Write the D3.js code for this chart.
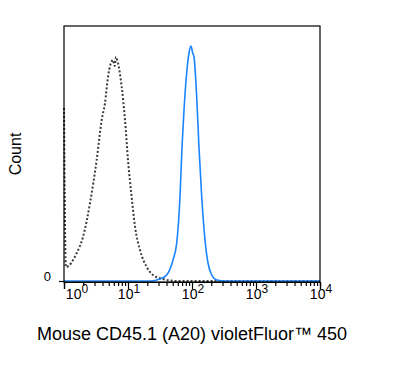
<!DOCTYPE html>
<html>
<head>
<meta charset="utf-8">
<script src="https://cdn.jsdelivr.net/npm/d3@7"></script>
<style>
  body { margin: 0; background: #fff; }
  text { font-family: "Liberation Sans", Arial, sans-serif; fill: #000; }
</style>
</head>
<body>
<div class="chart"></div>
<script>
// isotype control (dotted) - fluorescence intensity vs count
var isoX = [1, 1.07, 1.58, 1.98, 2.55, 3.24, 3.88, 4.37, 4.87, 5.83, 6.2, 6.49, 6.98, 7.97, 8.98, 10, 11.4, 12.9, 15.4, 19.6, 24.6, 35.2, 58.3, 10000];
var isoY = [173, 14, 28, 44, 78, 121, 161, 178, 204, 221, 215, 224, 218, 194, 161, 121, 84, 54, 31, 14, 6, 2, 0, 0];

// stained sample (blue)
var stainX = [1, 22.1, 31.6, 40.2, 50.5, 57.7, 64.9, 69.8, 75.0, 82.6, 89.8, 96.4, 102.5, 107.5, 118.4, 128.5, 141.9, 159.7, 177.8, 203.2, 243.3, 328, 10000];
var stainY = [0, 0, 2, 6, 21, 38, 84, 134, 171, 208, 228, 235, 228, 224, 184, 134, 84, 41, 18, 6, 1, 0, 0];

var majorTicks = [1, 10, 100, 1000, 10000];
var tickExp = ["0", "1", "2", "3", "4"];

var width = 395, height = 383;
var mLeft = 64, mRight = 320, mTop = 26, mBottom = 282;

var svg = d3.select(".chart").append("svg")
    .attr("width", width)
    .attr("height", height);

var x = d3.scaleLog().domain([1, 10000]).range([mLeft, mRight]);
var y = d3.scaleLinear().domain([0, 255]).range([mBottom - 1, mTop]);

var minorTicks = [];
for (var d = 1; d < 10000; d *= 10) {
  for (var m = 2; m <= 9; m++) minorTicks.push(d * m);
}

var line = d3.line()
    .x(function(d) { return x(d[0]); })
    .y(function(d) { return y(d[1]); })
    .curve(d3.curveMonotoneX);

var iso = isoX.map(function(v, i) { return [v, isoY[i]]; });
var stain = stainX.map(function(v, i) { return [v, stainY[i]]; });

svg.append("path")
    .attr("d", line(iso))
    .attr("fill", "none")
    .attr("stroke", "#3a3a3a")
    .attr("stroke-width", 2)
    .attr("stroke-dasharray", "2,2");

svg.append("path")
    .attr("d", line(stain))
    .attr("fill", "none")
    .attr("stroke", "#1a84ff")
    .attr("stroke-width", 1.6);

// frame
svg.append("rect")
    .attr("x", mLeft).attr("y", mTop)
    .attr("width", mRight - mLeft).attr("height", mBottom - mTop)
    .attr("fill", "none")
    .attr("stroke", "#000")
    .attr("stroke-width", 1.2);

// x axis
var xAxisMinor = d3.axisBottom(x).tickValues(minorTicks).tickSize(4).tickFormat("");
var xAxisMajor = d3.axisBottom(x).tickValues(majorTicks).tickSize(7).tickFormat("");

var gx = svg.append("g").attr("transform", "translate(0," + mBottom + ")");
gx.call(xAxisMinor);
gx.append("g").call(xAxisMajor);
gx.selectAll(".domain").attr("stroke", "#000").attr("stroke-width", 1.2);
gx.selectAll(".tick line").attr("stroke", "#000").attr("stroke-width", 1.2);

var labels = svg.append("g");
majorTicks.forEach(function(t, i) {
  var tx = x(t) + (i === 0 ? 13 : 1);
  var txt = labels.append("text")
      .attr("x", tx)
      .attr("y", mBottom + 17)
      .attr("text-anchor", "middle")
      .style("font-size", "14px");
  txt.append("tspan").text("10");
  txt.append("tspan")
      .attr("dy", -6)
      .style("font-size", "12px")
      .text(tickExp[i]);
});

// y axis
var yAxis = d3.axisLeft(y).tickValues([0]).tickSize(5).tickPadding(8);
var gy = svg.append("g").attr("transform", "translate(" + mLeft + ",0)").call(yAxis);
gy.select(".domain").remove();
gy.selectAll(".tick line").attr("stroke", "#000").attr("stroke-width", 1.2);
gy.selectAll(".tick text")
    .style("font-size", "13px")
    .style("font-family", "Liberation Sans, Arial, sans-serif")
    .attr("dy", "-0.05em");

// titles
svg.append("text")
    .attr("x", (mLeft + mRight) / 2)
    .attr("y", 340)
    .attr("text-anchor", "middle")
    .style("font-size", "18px")
    .text("Mouse CD45.1 (A20) violetFluor\u2122 450");

svg.append("text")
    .attr("transform", "translate(21," + ((mTop + mBottom) / 2) + ") rotate(-90)")
    .attr("text-anchor", "middle")
    .style("font-size", "16px")
    .text("Count");
</script>
</body>
</html>
